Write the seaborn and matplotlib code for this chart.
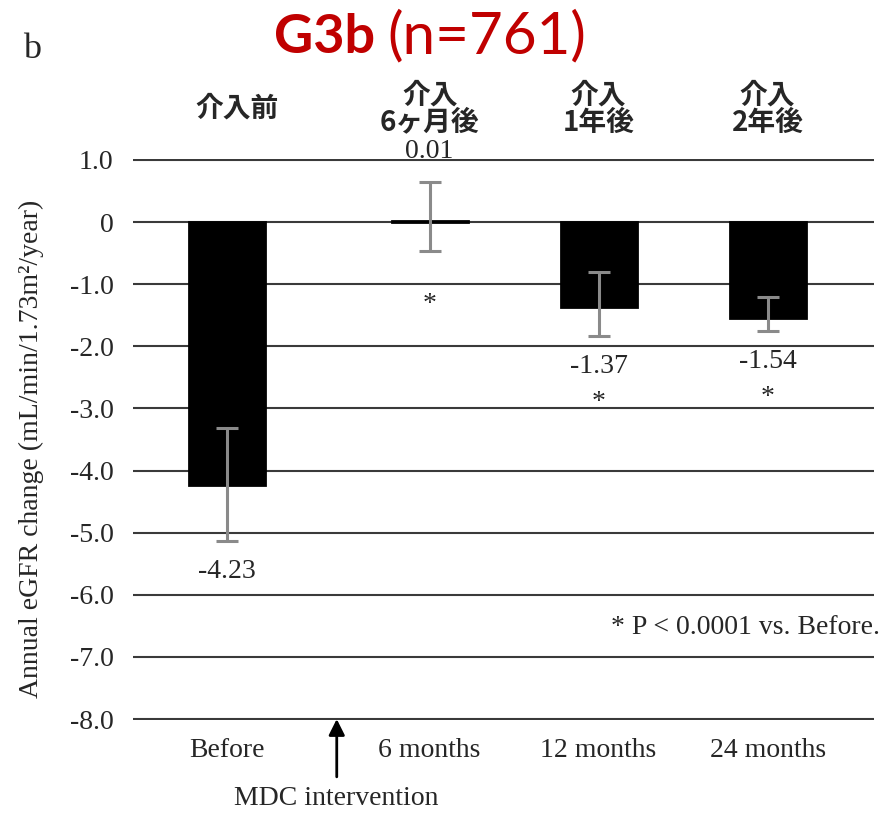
import numpy as np
import pandas as pd
import matplotlib
matplotlib.use("Agg")
import matplotlib.pyplot as plt
import matplotlib.transforms as mtransforms
import seaborn as sns

# Annual eGFR change per period (G3b cohort)
periods = ["Before", "6 months", "12 months", "24 months"]
headers_jp = ["介入前", "介入\n6ヶ月後", "介入\n1年後", "介入\n2年後"]
mean_change = [-4.23, 0.01, -1.37, -1.54]
ci_low = [-5.14, -0.47, -1.83, -1.75]
ci_high = [-3.32, 0.64, -0.80, -1.20]
value_labels = ["-4.23", "0.01", "-1.37", "-1.54"]
significant = [False, True, True, True]
ytick_values = [1.0, 0.0, -1.0, -2.0, -3.0, -4.0, -5.0, -6.0, -7.0, -8.0]
ytick_labels = ["1.0", "0", "-1.0", "-2.0", "-3.0", "-4.0", "-5.0", "-6.0", "-7.0", "-8.0"]

sns.set_style("white")
SERIF = ["Liberation Serif", "DejaVu Serif"]
JP = ["Noto Sans CJK JP", "DejaVu Sans"]
plt.rcParams["font.family"] = SERIF
FS = 20

# extra gap between "Before" and the post-intervention periods
idx = np.arange(len(periods))
pos = idx + np.where(idx > 0, 0.2, 0.0)
df = pd.DataFrame({"pos": pos, "change": mean_change})

fig = plt.figure(figsize=(8.93, 8.15), dpi=100)
ax = fig.add_axes([133 / 893, 1 - 720 / 815, 741 / 893, 561 / 815])

sns.barplot(data=df, x="pos", y="change", native_scale=True, color="black",
            saturation=1, width=0.45, errorbar=None, edgecolor="black",
            linewidth=2, ax=ax, zorder=3)

mean_arr = np.array(mean_change)
yerr = [mean_arr - np.array(ci_low), np.array(ci_high) - mean_arr]
ax.errorbar(pos, mean_arr, yerr=yerr, fmt="none", ecolor="#8a8a8a",
            elinewidth=2.2, capsize=8, capthick=2.2, zorder=4)

ax.set_xlim(-0.556, 3.83)
ax.set_ylim(-8.015, 1.015)
ax.set_yticks(ytick_values)
ax.set_yticklabels(ytick_labels)
ax.set_xticks(pos)
ax.set_xticklabels(periods)
ax.tick_params(axis="both", length=0, labelsize=FS)
ax.tick_params(axis="y", pad=14)
ax.tick_params(axis="x", pad=13)
for sp in ax.spines.values():
    sp.set_visible(False)
ax.yaxis.grid(True, color="#3a3a3a", linewidth=1.5, zorder=1)
ax.xaxis.grid(False)
ax.set_axisbelow(True)
ax.set_xlabel("")
ax.set_ylabel("Annual eGFR change (mL/min/1.73m²/year)", fontsize=FS)
ax.yaxis.set_label_coords(-0.120, 0.484)

# value labels and significance marks
for x, m, lo, hi, lab, sig in zip(pos, mean_change, ci_low, ci_high,
                                  value_labels, significant):
    if m > 0:
        ax.annotate(lab, xy=(x, hi), xytext=(0, 22), textcoords="offset points",
                    ha="center", va="center", fontsize=FS, annotation_clip=False)
        if sig:
            ax.annotate("*", xy=(x, lo), xytext=(0, -38), textcoords="offset points",
                        ha="center", va="center", fontsize=FS)
    else:
        ax.annotate(lab, xy=(x, lo), xytext=(0, -22), textcoords="offset points",
                    ha="center", va="center", fontsize=FS)
        if sig:
            ax.annotate("*", xy=(x, lo), xytext=(0, -48), textcoords="offset points",
                        ha="center", va="center", fontsize=FS)

# Japanese period headers above the plot
blend = mtransforms.blended_transform_factory(ax.transData, fig.transFigure)
header_dx = [7, 0, 0, 0]
for x, h, dx in zip(pos, headers_jp, header_dx):
    ax.annotate(h, xy=(x, 1 - 109 / 815), xycoords=blend, xytext=(dx, 0),
                textcoords="offset points", ha="center", va="center",
                family=JP, fontweight="bold", fontsize=20, linespacing=0.95,
                annotation_clip=False)

# intervention arrow
ax.annotate("", xy=(0.65, -8.0), xytext=(0.65, -8.93),
            arrowprops=dict(arrowstyle="-|>", lw=2, color="black",
                            mutation_scale=24, shrinkA=0, shrinkB=0),
            annotation_clip=False)
ax.text(0.65, -9.28, "MDC intervention", ha="center", va="center", fontsize=FS,
        clip_on=False)

fig.text(880 / 893, 1 - 627 / 815, "* P < 0.0001 vs. Before.", ha="right",
         va="center", fontsize=FS)
fig.text(32 / 893, 1 - 50 / 815, "b", ha="center", va="center", fontsize=26)

# title
fig.text(375 / 893, 1 - 53 / 815, "G3b", ha="right", va="baseline",
         family=["Lato", "DejaVu Sans"], fontweight="bold", fontsize=39,
         color="#C00000")
fig.text(387 / 893, 1 - 53 / 815, "(n=761)", ha="left", va="baseline",
         family=["Lato", "DejaVu Sans"], fontsize=42, color="#C00000")

fig.savefig("out.png", dpi=100)
